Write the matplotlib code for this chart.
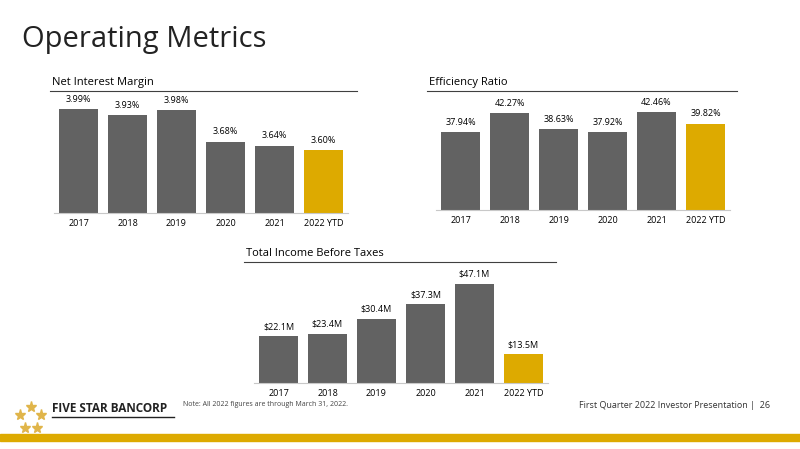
import matplotlib
matplotlib.use("Agg")
import matplotlib.pyplot as plt
from matplotlib.lines import Line2D
from matplotlib.patches import Rectangle

years = ["2017", "2018", "2019", "2020", "2021", "2022 YTD"]
nim = [3.99, 3.93, 3.98, 3.68, 3.64, 3.60]
nim_labels = ["3.99%", "3.93%", "3.98%", "3.68%", "3.64%", "3.60%"]
eff = [37.94, 42.27, 38.63, 37.92, 42.46, 39.82]
eff_labels = ["37.94%", "42.27%", "38.63%", "37.92%", "42.46%", "39.82%"]
inc = [22.1, 23.4, 30.4, 37.3, 47.1, 13.5]
inc_labels = ["$22.1M", "$23.4M", "$30.4M", "$37.3M", "$47.1M", "$13.5M"]

GRAY = "#626262"
GOLD = "#DDAA00"
W, H = 800, 449
plt.rcParams['font.family'] = ['Open Sans', 'DejaVu Sans']
fig = plt.figure(figsize=(8, 4.49), dpi=100)

def px(x0, y0, x1, y1):
    return [x0 / W, 1 - y1 / H, (x1 - x0) / W, (y1 - y0) / H]

def panel(rect, vals, labels, ymin, ymax, title, line_rect):
    ax = fig.add_axes(px(*rect))
    cols = [GRAY] * 5 + [GOLD]
    ax.bar(range(6), vals, width=0.8, color=cols, bottom=ymin)
    ax.set_ylim(ymin, ymax)
    ax.set_xlim(-0.5, 5.5)
    for i, (v, l) in enumerate(zip(vals, labels)):
        ax.text(i, v + (ymax - ymin) * 0.04, l, ha='center', va='bottom', fontsize=6.5)
    ax.set_xticks(range(6))
    ax.set_xticklabels(years, fontsize=6.5)
    ax.tick_params(axis='x', length=0, pad=4)
    ax.set_yticks([])
    for s in ['top', 'right', 'left']:
        ax.spines[s].set_visible(False)
    ax.spines['bottom'].set_color('#c8c8c8')
    lx0, lx1, ly = line_rect
    fig.add_artist(Line2D([lx0 / W, lx1 / W], [1 - ly / H] * 2, color='#404040', lw=0.8))
    fig.text(lx0 / W + 0.003, 1 - (ly - 3) / H, title, fontsize=8, va='bottom')

# bars heights: ymax chosen so bar tops match
panel((54, 80, 348, 213), [v - 3.0 for v in nim], nim_labels, 0, 1.267, "Net Interest Margin", (50, 357, 91))
ax = fig.axes[-1]
panel((436, 80, 730, 210), [v - 20.0 for v in eff], eff_labels, 0, 29.8, "Efficiency Ratio", (427, 737, 91))
panel((254, 262, 548, 383), inc, inc_labels, 0, 57.3, "Total Income Before Taxes", (244, 556, 262))

fig.text(22 / W, 1 - 40 / H, "Operating Metrics", fontsize=21, va='center', color='#222222')
fig.text(183 / W, 1 - 405 / H, "Note: All 2022 figures are through March 31, 2022.", fontsize=5, va='center', color='#444444')
fig.text(770 / W, 1 - 405 / H, "First Quarter 2022 Investor Presentation |  26", fontsize=6.5, ha='right', va='center', color='#333333')
fig.text(52 / W, 1 - 408 / H, "FIVE STAR BANCORP", fontsize=8.5, fontweight='bold', va='center', color='#222222')
fig.add_artist(Line2D([52 / W, 174 / W], [1 - 417 / H] * 2, color='#222222', lw=1))
stars = [(31, 407), (20, 415), (41, 415), (25, 428), (37, 428)]
for sx, sy in stars:
    fig.add_artist(Line2D([sx / W], [1 - sy / H], marker='*', ms=8, color='#E0B54A', lw=0))
fig.add_artist(Rectangle((0, 1 - 441 / H), 1, 7 / H, color=GOLD, transform=fig.transFigure))

fig.savefig("out.png", dpi=100)
